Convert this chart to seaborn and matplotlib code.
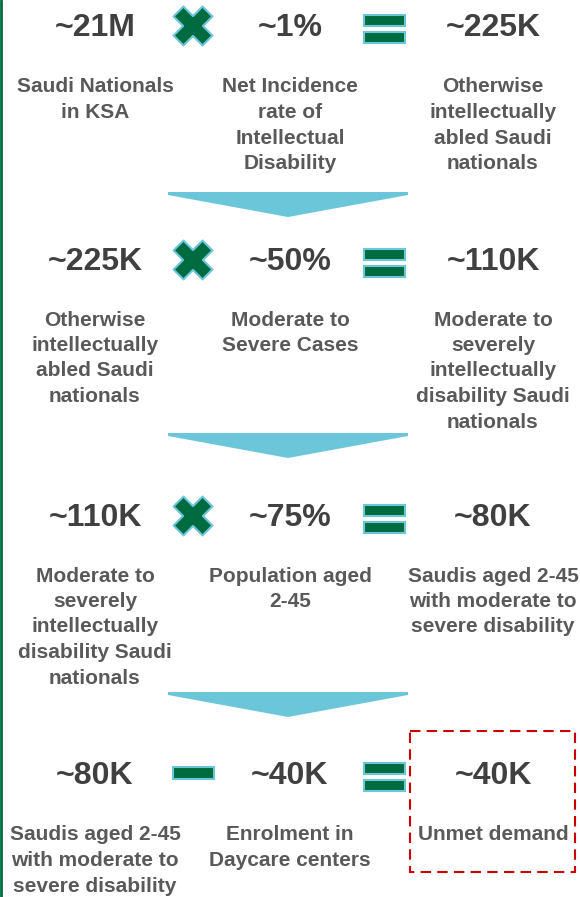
import numpy as np
import matplotlib.pyplot as plt
import seaborn as sns
from matplotlib.patches import Polygon, Rectangle

# Data: one row per step of the funnel
row_numbers = [
    ["~21M", "~1%", "~225K"],
    ["~225K", "~50%", "~110K"],
    ["~110K", "~75%", "~80K"],
    ["~80K", "~40K", "~40K"],
]
row_operators = [["x", "="], ["x", "="], ["x", "="], ["-", "="]]
row_labels = [
    [["Saudi Nationals", "in KSA"],
     ["Net Incidence", "rate of", "Intellectual", "Disability"],
     ["Otherwise", "intellectually", "abled Saudi", "nationals"]],
    [["Otherwise", "intellectually", "abled Saudi", "nationals"],
     ["Moderate to", "Severe Cases"],
     ["Moderate to", "severely", "intellectually", "disability Saudi", "nationals"]],
    [["Moderate to", "severely", "intellectually", "disability Saudi", "nationals"],
     ["Population aged", "2-45"],
     ["Saudis aged 2-45", "with moderate to", "severe disability"]],
    [["Saudis aged 2-45", "with moderate to", "severe disability"],
     ["Enrolment in", "Daycare centers"],
     ["Unmet demand"]],
]

# Layout (pixels)
col_x = [95, 290, 493]
op_x = [193, 384]
num_y = [28, 262, 518, 776]
label_y = [87, 320, 576, 835]
arrow_y = [192, 433, 692]
line_gap = 25.5

GREEN = "#006B3F"
BLUE = "#6CC6DA"
NUM_COLOR = "#404040"
LABEL_COLOR = "#595959"

sns.set_theme(style="white")
plt.rcParams["font.family"] = ["Liberation Sans", "DejaVu Sans"]

fig = plt.figure(figsize=(5.8, 8.97), dpi=100)
ax = fig.add_axes([0, 0, 1, 1])
ax.set_xlim(0, 580)
ax.set_ylim(897, 0)
ax.axis("off")

# left green rule
ax.plot([1, 1], [0, 897], color=GREEN, lw=2)


def draw_times(cx, cy):
    L, w = 20.5, 7.0
    pts = np.array([(w, L), (w, w), (L, w), (L, -w), (w, -w), (w, -L), (-w, -L),
                    (-w, -w), (-L, -w), (-L, w), (-w, w), (-w, L)])
    rot = np.column_stack([(pts[:, 0] - pts[:, 1]) / np.sqrt(2),
                           (pts[:, 0] + pts[:, 1]) / np.sqrt(2)])
    ax.add_patch(Polygon(rot + [cx, cy], closed=True, facecolor=GREEN,
                         edgecolor=BLUE, lw=1.5, joinstyle="round"))


def draw_equals(cx, cy):
    for dy in (-8.2, 8.2):
        ax.add_patch(Rectangle((cx - 20.5, cy + dy - 5.5), 41, 11, facecolor=GREEN,
                               edgecolor=BLUE, lw=1.5))


def draw_minus(cx, cy):
    ax.add_patch(Rectangle((cx - 20.5, cy - 6), 41, 12, facecolor=GREEN,
                           edgecolor=BLUE, lw=1.5))


for r in range(4):
    for c in range(3):
        ax.text(col_x[c], num_y[r], row_numbers[r][c], ha="center", va="center",
                fontsize=23, fontweight="bold", color=NUM_COLOR)
        for i, line in enumerate(row_labels[r][c]):
            ax.text(col_x[c], label_y[r] + i * line_gap, line, ha="center",
                    va="center", fontsize=15, fontweight="bold", color=LABEL_COLOR)
    for k, op in enumerate(row_operators[r]):
        if op == "x":
            draw_times(op_x[k], num_y[r] - 2)
        elif op == "=":
            draw_equals(op_x[k], num_y[r] + 1)
        else:
            draw_minus(op_x[k], num_y[r] - 2.5)

# down arrows between rows
for ty in arrow_y:
    ax.add_patch(Polygon([(168, ty), (408, ty), (408, ty + 3), (288, ty + 25),
                          (168, ty + 3)], closed=True, facecolor=BLUE, edgecolor="none"))

# dashed box around the result
ax.add_patch(Rectangle((410, 731), 165, 141, fill=False, edgecolor="#CC0000",
                       lw=1.5, linestyle=(0, (5, 3))))

fig.savefig("out.png", dpi=100)
